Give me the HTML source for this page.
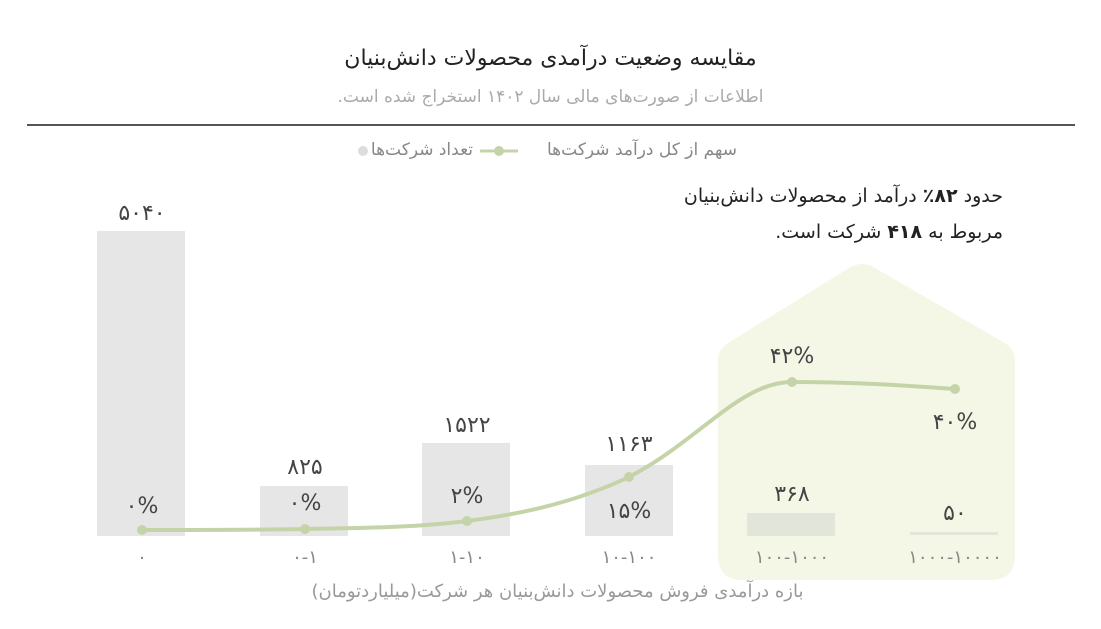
<!DOCTYPE html>
<html><head><meta charset="utf-8"><style>
body{margin:0;background:#fff;width:1101px;height:629px;overflow:hidden;font-family:"DejaVu Sans",sans-serif;position:relative}
svg{position:absolute;left:0;top:0}
svg text{font-family:"DejaVu Sans",sans-serif}
.t{position:absolute;direction:rtl;white-space:nowrap;font-family:"DejaVu Sans",sans-serif;line-height:1}
</style></head><body>
<svg width="1101" height="629" viewBox="0 0 1101 629" xmlns="http://www.w3.org/2000/svg">
<path d="M743,580 L990,580 Q1015,580 1015,555 L1015,360 Q1015,350 1005,343 L875,268 Q862,260 849,268 L728,343 Q718,350 718,360 L718,555 Q718,580 743,580 Z" fill="#f4f7e6"/>
<rect x="27" y="124" width="1048" height="2" fill="#555"/>
<line x1="480" y1="151" x2="518" y2="151" stroke="#c5d4a8" stroke-width="3"/>
<circle cx="499" cy="151" r="5" fill="#c5d4a8"/>
<circle cx="363" cy="151" r="5" fill="#ddd"/>
<g fill="#e6e6e6">
<rect x="97" y="231" width="88" height="305"/>
<rect x="260" y="486" width="88" height="50"/>
<rect x="422" y="443" width="88" height="93"/>
<rect x="585" y="465" width="88" height="71"/>
<rect x="747" y="513" width="88" height="23" fill="#e2e5da"/>
<rect x="910" y="532" width="88" height="3" fill="#e2e5da"/>
</g>
<g font-size="22" fill="#444" text-anchor="middle">
<text x="142" y="220">۵۰۴۰</text>
<text x="305" y="474">۸۲۵</text>
<text x="467" y="432">۱۵۲۲</text>
<text x="629" y="451">۱۱۶۳</text>
<text x="792" y="501">۳۶۸</text>
<text x="955" y="520">۵۰</text>
<text x="142" y="513">۰%</text>
<text x="305" y="510">۰%</text>
<text x="467" y="503">۲%</text>
<text x="629" y="518">۱۵%</text>
<text x="792" y="363">۴۲%</text>
<text x="955" y="429">۴۰%</text>
</g>
<path d="M142,530 C220,530 250,530 305,529 C370,528 420,527 467,521 C530,513 580,500 629,477 C700,440 740,382 792,382 C850,382 900,385 955,389" fill="none" stroke="#c5d4a8" stroke-width="4"/>
<g fill="#c5d4a8"><circle cx="142" cy="530" r="5"/><circle cx="305" cy="529" r="5"/><circle cx="467" cy="521" r="5"/><circle cx="629" cy="477" r="5"/><circle cx="792" cy="382" r="5"/><circle cx="955" cy="389" r="5"/></g>
<g font-size="18" fill="#888" text-anchor="middle">
<text x="142" y="563">۰</text>
<text x="305" y="563">۰-۱</text>
<text x="467" y="563">۱-۱۰</text>
<text x="629" y="563">۱۰-۱۰۰</text>
<text x="792" y="563">۱۰۰-۱۰۰۰</text>
<text x="955" y="563">۱۰۰۰-۱۰۰۰۰</text>
</g>
</svg>
<div class="t" style="left:0;width:1101px;text-align:center;top:48px;font-size:22px;color:#222">مقایسه وضعیت درآمدی محصولات دانش‌بنیان</div>
<div class="t" style="left:0;width:1101px;text-align:center;top:89px;font-size:17px;color:#aaa">اطلاعات از صورت‌های مالی سال ۱۴۰۲ استخراج شده است.</div>
<div class="t" style="right:364px;top:142px;font-size:17px;color:#888">سهم از کل درآمد شرکت‌ها</div>
<div class="t" style="right:628px;top:142px;font-size:17px;color:#888">تعداد شرکت‌ها</div>
<div class="t" style="right:98px;top:187px;font-size:19px;color:#222">حدود <b>۸۲٪</b> درآمد از محصولات دانش‌بنیان</div>
<div class="t" style="right:98px;top:223px;font-size:19px;color:#222">مربوط به <b>۴۱۸</b> شرکت است.</div>
<div class="t" style="left:0;width:1115px;text-align:center;top:583px;font-size:18px;color:#999">بازه درآمدی فروش محصولات دانش‌بنیان هر شرکت(میلیاردتومان)</div>
</body></html>
